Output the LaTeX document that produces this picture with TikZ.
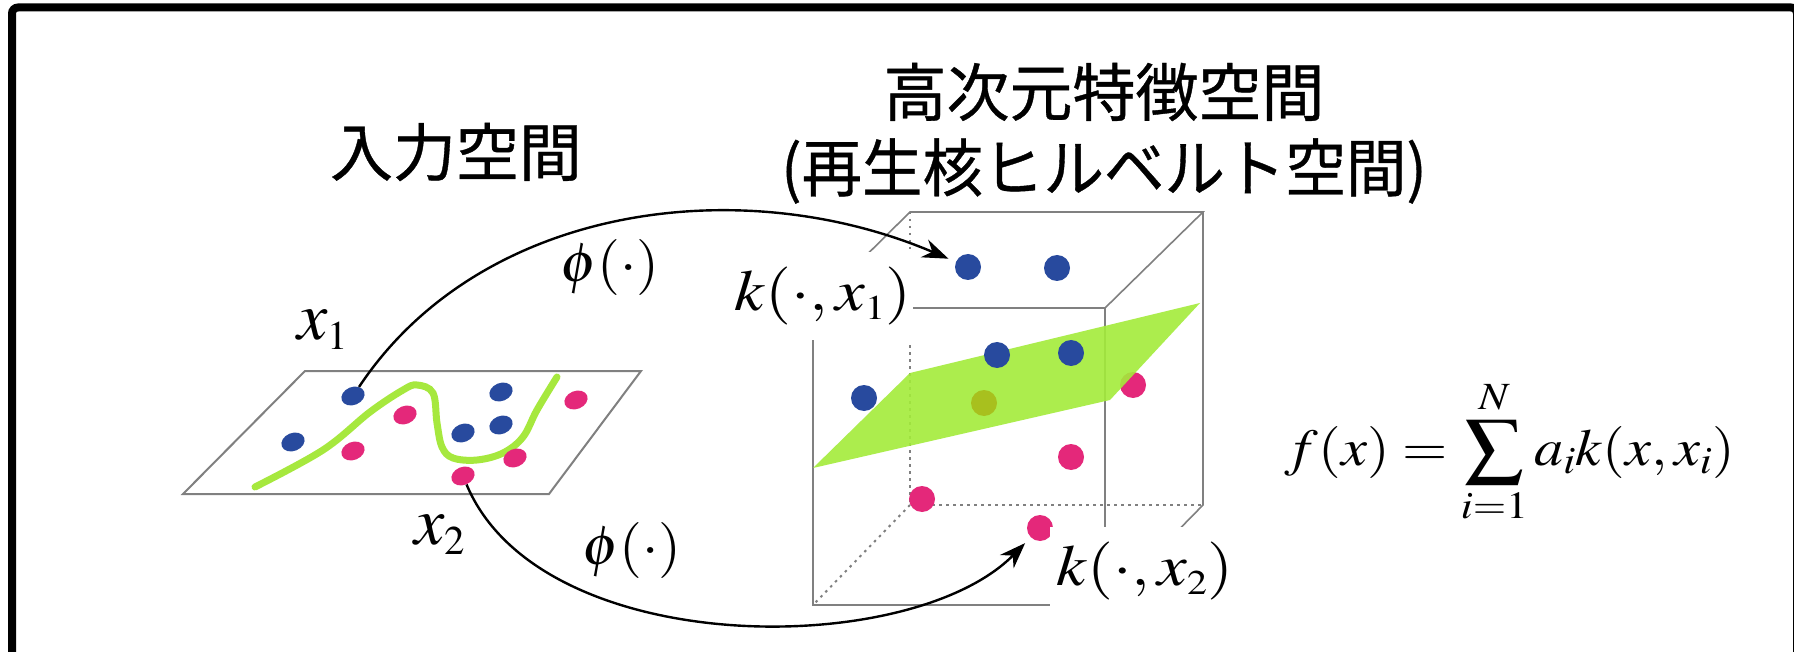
\documentclass[tikz,border=0pt]{standalone}
\usepackage{mathptmx}
\usepackage[no-math]{fontspec}
\newfontfamily\jpfont[FakeBold=0.6]{Noto Sans CJK JP}
\usetikzlibrary{arrows.meta,shapes.geometric}
\definecolor{dotblue}{RGB}{40,74,158}
\definecolor{dotpink}{RGB}{228,40,122}
\definecolor{leafgreen}{RGB}{166,232,62}
\definecolor{planegreen}{RGB}{163,236,58}
\definecolor{olivedot}{RGB}{168,192,30}
\definecolor{edgegray}{RGB}{128,128,128}
\begin{document}
\begin{tikzpicture}[x=1pt,y=-1pt,
  flatdot/.style={ellipse,inner sep=0pt,minimum width=24pt,minimum height=18pt,rotate=22},
  balldot/.style={circle,inner sep=0pt,minimum size=26pt},
  cubeedge/.style={edgegray,line width=1.6pt},
  hiddenedge/.style={edgegray,line width=2pt,dash pattern=on 2.5pt off 4.5pt},
  maparrow/.style={line width=2.4pt,-{Stealth[length=26pt,width=19pt]},shorten >=8pt},
  jptitle/.style={inner sep=0pt,font=\jpfont\fontsize{63}{70}\selectfont},
  mathlabel/.style={inner sep=0pt},
  whitetag/.style={fill=white,inner sep=0pt}]
\useasboundingbox (0,0) rectangle (1794,652);
\clip (0,0) rectangle (1794,652);
\fill[white] (0,0) rectangle (1794,652);
% outer frame, open at the bottom
\draw[line width=8pt,rounded corners=6pt] (12,700) -- (12,7.5) -- (1797,7.5) -- (1797,700);

% titles
\node[jptitle] (tin) at (456,152) {入力空間};
\node[jptitle] (tfeat) at (1104,92) {高次元特徴空間};
\node[jptitle] (trkhs) at (1104,171) {\scalebox{0.96}[1]{(再生核ヒルベルト空間)}};

% input plane
\draw[edgegray,line width=2pt] (305,371) -- (641,371) -- (549,494) -- (183,494) -- cycle;
\draw[leafgreen,line width=7pt,line cap=round] plot[smooth,tension=0.6] coordinates
  {(255,487) (323,450) (370,412) (403,390) (417,385) (433,393) (437,423) (442,447)
   (453,458) (477,460) (503,453) (523,437) (537,410) (557,377)};
\node[flatdot,fill=dotblue] (la) at (353,396) {};
\node[flatdot,fill=dotblue] (lb) at (293,442) {};
\node[flatdot,fill=dotpink] (lc) at (405,415) {};
\node[flatdot,fill=dotpink] (ld) at (353,451) {};
\node[flatdot,fill=dotblue] (le) at (463,433) {};
\node[flatdot,fill=dotblue] (lf) at (501,392) {};
\node[flatdot,fill=dotblue] (lg) at (501,425) {};
\node[flatdot,fill=dotpink] (lh) at (576,400) {};
\node[flatdot,fill=dotpink] (li) at (515,458) {};
\node[flatdot,fill=dotpink] (lj) at (463,476) {};

% feature-space cube
\draw[hiddenedge] (910,212) -- (910,505) -- (1203,505);
\draw[hiddenedge] (910,505) -- (813,605);
\draw[cubeedge] (813,308) rectangle (1105,605);
\draw[cubeedge] (813,308) -- (910,212) -- (1203,212) -- (1105,308);
\draw[cubeedge] (1203,212) -- (1203,505) -- (1105,605);

% points behind the separating plane
\node[balldot,fill=dotpink] (cg) at (1133,385) {};
% separating plane
\fill[planegreen,fill opacity=0.9] (813,468) -- (910,373) -- (1200,303) -- (1110,400) -- cycle;
\node[balldot,fill=olivedot] (cf) at (984,403) {};
% points in feature space
\node[balldot,fill=dotblue] (ca) at (968,267) {};
\node[balldot,fill=dotblue] (cb) at (1057,268) {};
\node[balldot,fill=dotblue] (cc) at (997,355) {};
\node[balldot,fill=dotblue] (cd) at (1071,353) {};
\node[balldot,fill=dotblue] (ce) at (864,398) {};
\node[balldot,fill=dotpink] (ch) at (1071,457) {};
\node[balldot,fill=dotpink] (ci) at (922,499) {};
\node[balldot,fill=dotpink] (cj) at (1040,528) {};

% kernel labels on white tags
\node[whitetag,minimum width=180pt,minimum height=88pt] (ka) at (823,296)
  {\fontsize{58}{62}\selectfont\scalebox{1.15}[1]{$k(\cdot,x_{\scriptscriptstyle 1})$}};
\node[whitetag,minimum width=190pt,minimum height=88pt] (kb) at (1145,571)
  {\fontsize{58}{62}\selectfont\scalebox{1.15}[1]{$k(\cdot,x_{\scriptscriptstyle 2})$}};

% feature maps
\draw[maparrow] (la) .. controls (480,205) and (740,170) .. (ca);
\draw[maparrow] (lj) .. controls (540,660) and (910,660) .. (cj);

% map and point labels
\node[mathlabel] (phia) at (610,268) {\fontsize{56}{60}\selectfont\scalebox{1.05}[1]{$\phi(\cdot)$}};
\node[mathlabel] (phib) at (632,550) {\fontsize{56}{60}\selectfont\scalebox{1.05}[1]{$\phi(\cdot)$}};
\node[mathlabel] (xa) at (323,330) {\fontsize{68}{72}\selectfont$x_{\scriptscriptstyle 1}$};
\node[mathlabel] (xb) at (440,535) {\fontsize{68}{72}\selectfont$x_{\scriptscriptstyle 2}$};

% decision function
\node[mathlabel] (fx) at (1510,452)
  {\fontsize{52}{56}\selectfont\scalebox{1.12}[1]{$\displaystyle f(x)=\sum_{i=1}^{N}a_i k(x,x_i)$}};
\end{tikzpicture}
\end{document}
